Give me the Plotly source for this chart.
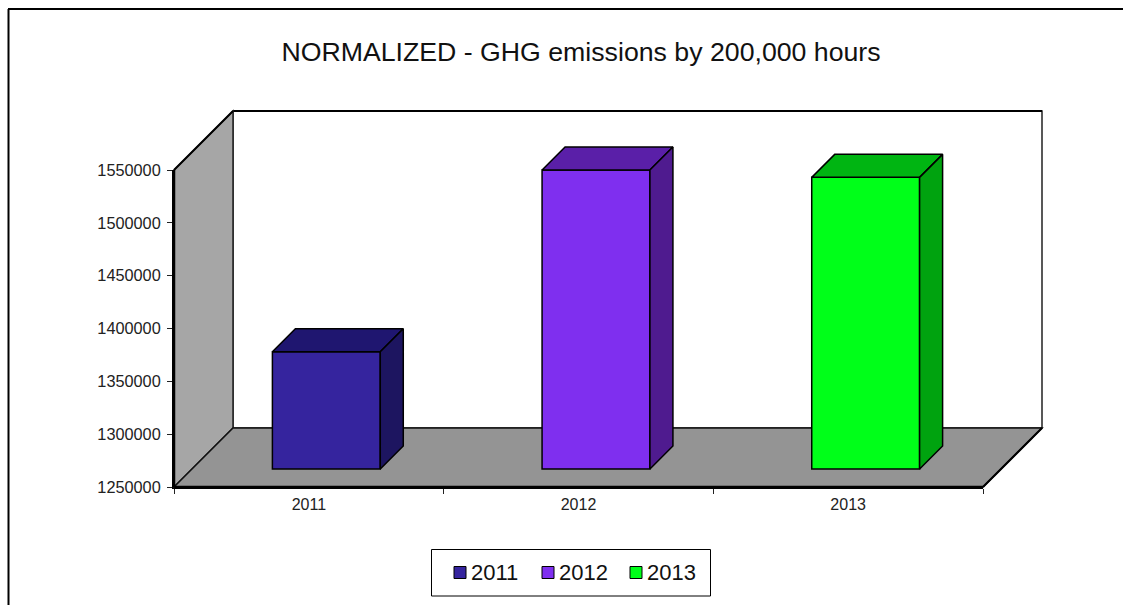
import plotly.graph_objects as go

years = ['2011', '2012', '2013']
values = [1361000, 1533000, 1526000]
y_ticks = [1250000, 1300000, 1350000, 1400000, 1450000, 1500000, 1550000]

front_colors = ['#35249E', '#7F2FEF', '#00FF19']
top_colors = ['#1F1670', '#5A1FA8', '#00B512']
side_colors = ['#1D1560', '#4F1B8F', '#00A30F']

W, H = 1123, 605
FLOOR = 1250000
PX_PER_UNIT_Y = 317 / 300000   # pixels for one emission unit
PX_PER_CAT = 809 / 3           # pixels for one category
BAR_W = 0.4
PAD = 10                       # spare pixels round the box so its edges are not clipped

# the 3D look: depth of the chart box and of the bars, in axis units
WALL_DX = 59 / PX_PER_CAT
WALL_DY = 59 / PX_PER_UNIT_Y
BAR_DX = 23 / PX_PER_CAT
BAR_DY = 23 / PX_PER_UNIT_Y
SHIFT_X = 17.5 / PX_PER_CAT    # bars stand this far into the box
SHIFT_Y = 18 / PX_PER_UNIT_Y
y_top = y_ticks[-1]
x0, x1 = -0.5, 2.5
base = FLOOR + SHIFT_Y

fig = go.Figure()

# front faces
fig.add_trace(go.Bar(x=[i + SHIFT_X for i in range(3)],
                     y=[v - FLOOR for v in values],
                     base=base,
                     width=BAR_W,
                     xaxis='x2',
                     yaxis='y2',
                     marker=dict(color=front_colors, line=dict(color='#000000', width=1.5)),
                     showlegend=False))

for i, v in enumerate(values):
    left = i + SHIFT_X - BAR_W / 2
    right = i + SHIFT_X + BAR_W / 2
    v_top = v + SHIFT_Y
    # top face
    fig.add_trace(go.Scatter(x=[left, right, right + BAR_DX, left + BAR_DX, left],
                             y=[v_top, v_top, v_top + BAR_DY, v_top + BAR_DY, v_top],
                             xaxis='x2', yaxis='y2', mode='lines', fill='toself',
                             fillcolor=top_colors[i],
                             line=dict(color='#000000', width=1.5),
                             showlegend=False, hoverinfo='skip'))
    # side face
    fig.add_trace(go.Scatter(x=[right, right + BAR_DX, right + BAR_DX, right, right],
                             y=[v_top, v_top + BAR_DY, base + BAR_DY, base, v_top],
                             xaxis='x2', yaxis='y2', mode='lines', fill='toself',
                             fillcolor=side_colors[i],
                             line=dict(color='#000000', width=1.5),
                             showlegend=False, hoverinfo='skip'))

# nothing visible, it only makes plotly draw the tick axes
fig.add_trace(go.Scatter(x=[0, 1, 2], y=values, mode='none', showlegend=False, hoverinfo='skip'))


def poly(points):
    return 'M ' + ' L '.join(f'{x},{y}' for x, y in points) + ' Z'


shapes = [
    # back wall
    dict(type='path', xref='x2', yref='y2', layer='below', fillcolor='#FFFFFF',
         line=dict(color='#222222', width=1.5),
         path=poly([(x0 + WALL_DX, FLOOR + WALL_DY), (x1 + WALL_DX, FLOOR + WALL_DY),
                    (x1 + WALL_DX, y_top + WALL_DY), (x0 + WALL_DX, y_top + WALL_DY)])),
    dict(type='line', xref='x2', yref='y2', layer='below', line=dict(color='#000000', width=2),
         x0=x0 + WALL_DX, x1=x1 + WALL_DX, y0=y_top + WALL_DY, y1=y_top + WALL_DY),
    # side wall
    dict(type='path', xref='x2', yref='y2', layer='below', fillcolor='#A6A6A6',
         line=dict(color='#222222', width=1.5),
         path=poly([(x0, FLOOR), (x0, y_top), (x0 + WALL_DX, y_top + WALL_DY),
                    (x0 + WALL_DX, FLOOR + WALL_DY)])),
    dict(type='line', xref='x2', yref='y2', layer='below', line=dict(color='#000000', width=2),
         x0=x0, x1=x0 + WALL_DX, y0=y_top, y1=y_top + WALL_DY),
    # floor
    dict(type='path', xref='x2', yref='y2', layer='below', fillcolor='#949494',
         line=dict(color='#111111', width=1.5),
         path=poly([(x0, FLOOR), (x1, FLOOR), (x1 + WALL_DX, FLOOR + WALL_DY),
                    (x0 + WALL_DX, FLOOR + WALL_DY)])),
    dict(type='line', xref='x2', yref='y2', layer='below', line=dict(color='#000000', width=2),
         x0=x1, x1=x1 + WALL_DX, y0=FLOOR, y1=FLOOR + WALL_DY),
    # front edges of floor and side wall, over the tick axes
    dict(type='line', xref='x2', yref='y2', layer='below', line=dict(color='#000000', width=2.5),
         x0=x0, x1=x1, y0=FLOOR, y1=FLOOR),
    dict(type='line', xref='x2', yref='y2', layer='below', line=dict(color='#000000', width=2.5),
         x0=x0, x1=x0, y0=FLOOR, y1=y_top),
    # chart frame, cut off by the picture on the right and at the bottom
    dict(type='line', xref='paper', yref='paper', line=dict(color='#000000', width=2),
         x0=8 / W, x1=1, y0=1 - 9 / H, y1=1 - 9 / H),
    dict(type='line', xref='paper', yref='paper', line=dict(color='#000000', width=2),
         x0=8.5 / W, x1=8.5 / W, y0=0, y1=1 - 9 / H),
    # legend box
    dict(type='rect', xref='paper', yref='paper', fillcolor='#FFFFFF',
         line=dict(color='#000000', width=1),
         x0=431.5 / W, x1=710.5 / W, y0=1 - 596 / H, y1=1 - 549.5 / H),
]

annotations = []
for i, year in enumerate(years):
    left = 454 + i * 88
    shapes.append(dict(type='rect', xref='paper', yref='paper', fillcolor=front_colors[i],
                       line=dict(color='#000000', width=1),
                       x0=left / W, x1=(left + 12) / W, y0=1 - 578.5 / H, y1=1 - 566.5 / H))
    annotations.append(dict(text=year, xref='paper', yref='paper', showarrow=False,
                            x=(left + 14.5) / W, y=1 - 572.5 / H, xanchor='left', yanchor='middle',
                            font=dict(family='Liberation Sans', size=22, color='#111111')))

fig.update_layout(
    width=W,
    height=H,
    margin=dict(l=0, r=0, t=0, b=0, autoexpand=False),
    paper_bgcolor='#FFFFFF',
    plot_bgcolor='rgba(0,0,0,0)',
    showlegend=False,
    font=dict(family='Liberation Sans', color='#222222'),
    title=dict(text='NORMALIZED - GHG emissions by 200,000 hours',
               x=581 / W, y=1 - 52 / H, xanchor='center', yanchor='middle',
               font=dict(family='Liberation Sans', size=26.7, color='#111111')),
    xaxis=dict(domain=[174 / W, 983 / W], range=[x0, x1], type='linear',
               tickvals=[0, 1, 2], ticktext=years, ticks='', ticklabelstandoff=2,
               tickfont=dict(size=16), showgrid=False, zeroline=False,
               showline=True, linecolor='#000000', linewidth=2,
               minor=dict(tickvals=[-0.5, 0.5, 1.5, 2.5], ticks='outside', ticklen=5,
                          tickcolor='#222222', tickwidth=1, showgrid=False)),
    yaxis=dict(domain=[1 - 487 / H, 1 - 170 / H], range=[FLOOR, y_top],
               tickvals=y_ticks, tickformat='d', ticks='outside', ticklen=5,
               tickcolor='#222222', tickwidth=1, tickfont=dict(size=16.3), ticklabelstandoff=3,
               showgrid=False, zeroline=False,
               showline=True, linecolor='#000000', linewidth=2),
    # hidden pair holding the walls, floor and bars, wider than the visible axes
    xaxis2=dict(domain=[(174 - PAD) / W, (1042 + PAD) / W],
                range=[x0 - PAD / PX_PER_CAT, x1 + WALL_DX + PAD / PX_PER_CAT],
                anchor='y2', visible=False),
    yaxis2=dict(domain=[1 - (487 + PAD) / H, 1 - (111 - PAD) / H],
                range=[FLOOR - PAD / PX_PER_UNIT_Y, y_top + WALL_DY + PAD / PX_PER_UNIT_Y],
                anchor='x2', visible=False),
    shapes=shapes,
    annotations=annotations,
)

fig.write_html("out.html", config=dict(displayModeBar=False),
               post_script="document.body.style.margin='0';")
